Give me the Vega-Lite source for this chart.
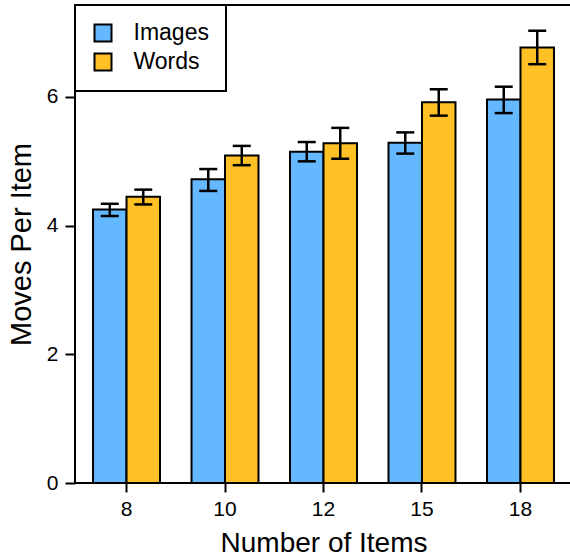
{
  "$schema": "https://vega.github.io/schema/vega-lite/v6.json",
  "autosize": {"type": "none"},
  "padding": {"left": 75, "top": 5, "right": 0, "bottom": 75},
  "width": 497,
  "height": 478,
  "background": "white",
  "data": {
    "values": [
      {"n": 8, "type": "Images", "mean": 4.25, "lo": 4.15, "hi": 4.34},
      {"n": 8, "type": "Words", "mean": 4.45, "lo": 4.33, "hi": 4.56},
      {"n": 10, "type": "Images", "mean": 4.72, "lo": 4.54, "hi": 4.88},
      {"n": 10, "type": "Words", "mean": 5.09, "lo": 4.94, "hi": 5.24},
      {"n": 12, "type": "Images", "mean": 5.15, "lo": 5.0, "hi": 5.3},
      {"n": 12, "type": "Words", "mean": 5.28, "lo": 5.04, "hi": 5.52},
      {"n": 15, "type": "Images", "mean": 5.29, "lo": 5.12, "hi": 5.45},
      {"n": 15, "type": "Words", "mean": 5.92, "lo": 5.71, "hi": 6.12},
      {"n": 18, "type": "Images", "mean": 5.96, "lo": 5.75, "hi": 6.16},
      {"n": 18, "type": "Words", "mean": 6.77, "lo": 6.51, "hi": 7.03}
    ]
  },
  "encoding": {
    "x": {
      "field": "n",
      "type": "ordinal",
      "scale": {"paddingInner": 0.32, "paddingOuter": 0.183},
      "axis": {
        "title": "Number of Items",
        "labelAngle": 0,
        "domain": false,
        "tickSize": 9,
        "tickWidth": 2,
        "tickColor": "black",
        "labelPadding": 6,
        "labelFontSize": 21,
        "labelColor": "black",
        "titleFontSize": 28,
        "titleFontWeight": "normal",
        "titleColor": "black",
        "titleBaseline": "top",
        "titleY": 46
      }
    },
    "xOffset": {
      "field": "type",
      "type": "nominal",
      "scale": {"paddingInner": 0, "paddingOuter": 0}
    }
  },
  "layer": [
    {
      "mark": {"type": "bar", "stroke": "black", "strokeWidth": 2},
      "encoding": {
        "y": {
          "field": "mean",
          "type": "quantitative",
          "scale": {"domain": [0, 7.43], "nice": false, "zero": true},
          "axis": {
            "title": "Moves Per Item",
            "values": [0, 2, 4, 6],
            "format": "d",
            "grid": false,
            "domain": false,
            "tickSize": 10,
            "tickWidth": 2,
            "tickColor": "black",
            "labelPadding": 7,
            "labelFontSize": 21,
            "labelColor": "black",
            "titleFontSize": 29,
            "titleFontWeight": "normal",
            "titleColor": "black",
            "titleBaseline": "top",
            "titleX": -68
          }
        },
        "fill": {
          "field": "type",
          "type": "nominal",
          "scale": {"domain": ["Images", "Words"], "range": ["#63B8FF", "#FFC125"]},
          "legend": {
            "title": null,
            "orient": "none",
            "legendX": 0,
            "legendY": 0,
            "fillColor": "white",
            "strokeColor": "black",
            "padding": 16.5,
            "symbolType": "square",
            "symbolSize": 289,
            "symbolStrokeColor": "black",
            "symbolStrokeWidth": 2,
            "symbolOpacity": 1,
            "labelFontSize": 23,
            "labelOffset": 19,
            "rowPadding": 4,
            "labelColor": "black"
          }
        }
      }
    },
    {
      "mark": {"type": "rule", "stroke": "black", "strokeWidth": 2.5},
      "encoding": {
        "y": {"field": "lo", "type": "quantitative"},
        "y2": {"field": "hi"}
      }
    },
    {
      "mark": {"type": "tick", "color": "black", "orient": "horizontal", "size": 18, "thickness": 2.5, "opacity": 1},
      "encoding": {
        "y": {"field": "lo", "type": "quantitative"}
      }
    },
    {
      "mark": {"type": "tick", "color": "black", "orient": "horizontal", "size": 18, "thickness": 2.5, "opacity": 1},
      "encoding": {
        "y": {"field": "hi", "type": "quantitative"}
      }
    }
  ],
  "config": {
    "font": "Liberation Sans",
    "view": {"stroke": "black", "strokeWidth": 2},
    "axis": {
      "labelFont": "Liberation Sans",
      "titleFont": "Liberation Sans",
      "grid": false
    },
    "legend": {"strokeWidth": 2, "labelFont": "Liberation Sans"}
  }
}
